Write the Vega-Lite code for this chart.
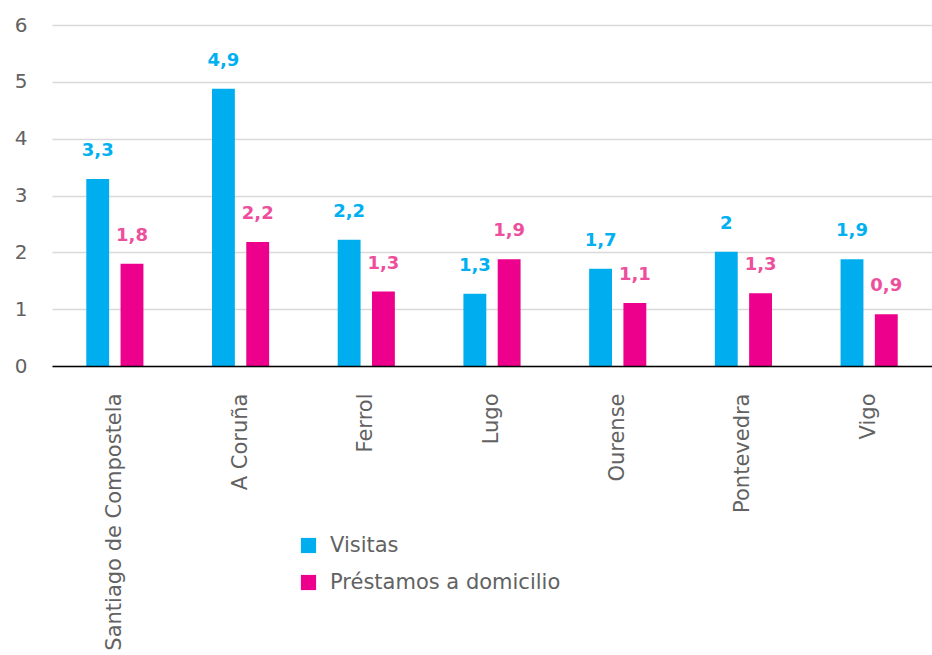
{
  "$schema": "https://vega.github.io/schema/vega-lite/v6.json",
  "width": 880,
  "height": 341,
  "autosize": "none",
  "padding": {"left": 52, "top": 25, "right": 0, "bottom": 289},
  "background": "white",
  "data": {
    "values": [
      {"ciudad": "Santiago de Compostela", "serie": "Visitas", "valor": 3.29, "etiqueta": "3,3"},
      {"ciudad": "Santiago de Compostela", "serie": "Préstamos a domicilio", "valor": 1.8, "etiqueta": "1,8"},
      {"ciudad": "A Coruña", "serie": "Visitas", "valor": 4.88, "etiqueta": "4,9"},
      {"ciudad": "A Coruña", "serie": "Préstamos a domicilio", "valor": 2.18, "etiqueta": "2,2"},
      {"ciudad": "Ferrol", "serie": "Visitas", "valor": 2.22, "etiqueta": "2,2"},
      {"ciudad": "Ferrol", "serie": "Préstamos a domicilio", "valor": 1.31, "etiqueta": "1,3"},
      {"ciudad": "Lugo", "serie": "Visitas", "valor": 1.27, "etiqueta": "1,3"},
      {"ciudad": "Lugo", "serie": "Préstamos a domicilio", "valor": 1.88, "etiqueta": "1,9"},
      {"ciudad": "Ourense", "serie": "Visitas", "valor": 1.71, "etiqueta": "1,7"},
      {"ciudad": "Ourense", "serie": "Préstamos a domicilio", "valor": 1.11, "etiqueta": "1,1"},
      {"ciudad": "Pontevedra", "serie": "Visitas", "valor": 2.01, "etiqueta": "2"},
      {"ciudad": "Pontevedra", "serie": "Préstamos a domicilio", "valor": 1.28, "etiqueta": "1,3"},
      {"ciudad": "Vigo", "serie": "Visitas", "valor": 1.88, "etiqueta": "1,9"},
      {"ciudad": "Vigo", "serie": "Préstamos a domicilio", "valor": 0.91, "etiqueta": "0,9"}
    ]
  },
  "encoding": {
    "x": {
      "field": "ciudad",
      "type": "nominal",
      "sort": null,
      "title": null,
      "scale": {"paddingInner": 0, "paddingOuter": 0},
      "axis": {
        "labelAngle": -90,
        "labelFont": "DejaVu Sans",
        "labelFontSize": 21,
        "labelColor": "#626262",
        "labelPadding": 27,
        "labelLimit": 0,
        "labelOverlap": false,
        "labelBound": false,
        "ticks": false,
        "domainColor": "#000000",
        "domainWidth": 1.5,
        "grid": false,
        "zindex": 1
      }
    },
    "xOffset": {
      "field": "serie",
      "type": "nominal",
      "sort": ["Visitas", "Préstamos a domicilio"],
      "scale": {"paddingInner": 0.333, "paddingOuter": 1.07}
    },
    "y": {
      "field": "valor",
      "type": "quantitative",
      "title": null,
      "scale": {"domain": [0, 6], "nice": false},
      "axis": {
        "values": [0, 1, 2, 3, 4, 5, 6],
        "domain": false,
        "ticks": false,
        "labelFont": "DejaVu Sans",
        "labelFontSize": 20,
        "labelColor": "#626262",
        "labelPadding": 25,
        "gridColor": "#d9d9d9",
        "gridWidth": 1.5
      }
    }
  },
  "layer": [
    {
      "mark": {"type": "bar"},
      "encoding": {
        "color": {
          "field": "serie",
          "type": "nominal",
          "sort": ["Visitas", "Préstamos a domicilio"],
          "scale": {"domain": ["Visitas", "Préstamos a domicilio"], "range": ["#00AEEF", "#EC008C"]},
          "legend": {
            "title": null,
            "orient": "none",
            "legendX": 246,
            "legendY": 510,
            "direction": "vertical",
            "symbolType": "square",
            "symbolSize": 230,
            "symbolStrokeWidth": 0,
            "labelFont": "DejaVu Sans",
            "labelFontSize": 21,
            "labelColor": "#626262",
            "labelOffset": 11,
            "labelLimit": 0,
            "rowPadding": 15
          }
        }
      }
    },
    {
      "mark": {"type": "text", "baseline": "alphabetic", "dy": -23, "font": "DejaVu Sans", "fontSize": 18, "fontWeight": "bold"},
      "encoding": {
        "text": {"field": "etiqueta", "type": "nominal"},
        "color": {
          "field": "serie",
          "type": "nominal",
          "scale": {"domain": ["Visitas", "Préstamos a domicilio"], "range": ["#00B0F0", "#EE4F9C"]},
          "legend": null
        }
      }
    }
  ],
  "resolve": {"scale": {"color": "independent"}},
  "config": {"view": {"stroke": null}}
}
